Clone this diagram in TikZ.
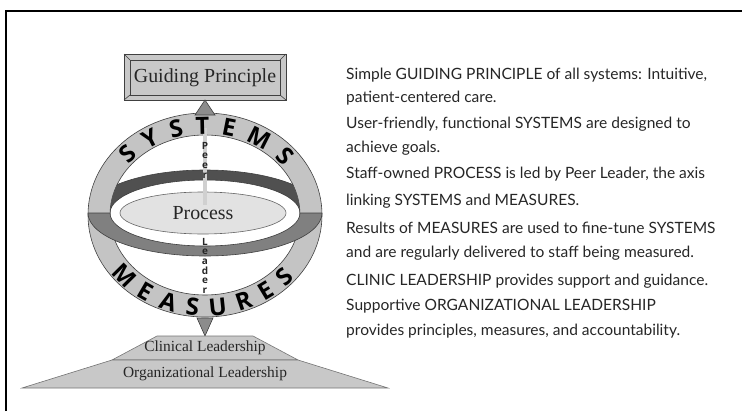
\documentclass[tikz,border=0pt]{standalone}
\usepackage{fontspec}
\setmainfont{Liberation Serif}
\newfontfamily\sidefont{Lato}
\newfontfamily\ringfont{Open Sans}
\usetikzlibrary{decorations.text,calc,shapes.geometric}
\definecolor{ringgray}{HTML}{C4C4C4}
\definecolor{boxgray}{HTML}{C8C8C8}
\definecolor{edgegray}{HTML}{404040}
\definecolor{backband}{HTML}{505050}
\definecolor{frontband}{HTML}{808080}
\definecolor{procgray}{HTML}{E2E2E2}
\definecolor{axisgray}{HTML}{D0D0D0}
\newcommand\ringtxt{\ringfont\bfseries\fontsize{24}{24}\selectfont}
\tikzset{
  sidetext/.style={anchor=base west, inner sep=0pt, font=\sidefont\fontsize{15.6}{18}\selectfont, text=black!85},
  serif/.style={inner sep=0pt, text=black!85},
  stack/.style={anchor=north, inner sep=0pt, align=center, font=\ringfont\bfseries\fontsize{10}{9.7}\selectfont, text=black!85},
  outline/.style={draw=edgegray, line width=0.6pt}
}
\begin{document}
\begin{tikzpicture}[x=1bp,y=1bp]
\useasboundingbox (0,0) rectangle (742,411);
% frame
\draw[line width=1.8bp, black] (6,0) -- (6,400) -- (742,400);
\coordinate (C) at (205,196);
\coordinate (E) at (205,198);
% vertical ring
\fill[ringgray, even odd rule] (C) ellipse[x radius=117bp, y radius=102bp] (C) ellipse[x radius=95bp, y radius=80bp];
\draw[outline] (C) ellipse[x radius=117bp, y radius=102bp];
\draw[outline] (C) ellipse[x radius=95bp, y radius=80bp];
% back band
\begin{scope}
  \clip (C) ellipse[x radius=95bp, y radius=80bp];
  \filldraw[fill=backband, draw=edgegray, line width=0.6pt] ($(E)+(117,0)$) arc[start angle=0, end angle=180, x radius=117bp, y radius=43bp] -- ($(E)+(-95,0)$) arc[start angle=180, end angle=0, x radius=95bp, y radius=33bp] -- cycle;
\end{scope}
% process
\node[ellipse, minimum width=166bp, minimum height=42bp, fill=procgray, draw=black!60, line width=0.6pt, inner sep=0pt] (proc) at (203,198) {};
\node[serif, font=\fontsize{20}{20}\selectfont] (proctext) at (203,198) {Process};
% axis
\coordinate (axtop) at (205,283);
\coordinate (axbot) at (205,206);
\draw[axisgray, line width=3.5bp] (axtop) -- (axbot);
% front band
\filldraw[fill=frontband, draw=edgegray, line width=0.6pt] ($(E)+(-117,0)$) arc[start angle=180, end angle=360, x radius=117bp, y radius=43bp] -- ($(E)+(95,0)$) arc[start angle=0, end angle=-180, x radius=95bp, y radius=33bp] -- cycle;
% ring texts
\path[decorate, decoration={text along path, text={|\ringtxt|SYSTEMS}, text align=fit to path}] ($(C)+(142:97bp and 81bp)$) arc[start angle=142, end angle=36, x radius=97bp, y radius=81bp];
\path[decorate, decoration={text along path, text={|\ringtxt|MEASURES}, text align=fit to path}] ($(C)+(215:115bp and 101bp)$) arc[start angle=215, end angle=321, x radius=115bp, y radius=101bp];
% Peer Leader
\node[stack] (peer) at (205,269) {P\\e\\e\\r};
\node[stack] (leader) at (205,173) {L\\e\\a\\d\\e\\r};
% guiding principle box
\filldraw[fill=boxgray, draw=edgegray, line width=0.6pt] (124,311) rectangle (286,357);
\draw[edgegray, line width=0.6pt] (124,311) -- (130,316) (286,311) -- (280,316) (124,357) -- (130,351) (286,357) -- (280,351);
\node[draw=edgegray, line width=0.6pt, fill=boxgray, minimum width=150bp, minimum height=35bp, inner sep=0pt] (gp) at (205,333.5) {};
\node[serif, font=\fontsize{20}{20}\selectfont] (gptext) at (205,333.5) {Guiding Principle};
% up triangle
\filldraw[fill=black!45, draw=edgegray, line width=0.6pt] (195,296) -- (205,311) -- (215,296) -- cycle;
% down triangle
\filldraw[fill=black!45, draw=edgegray, line width=0.6pt] (197,93) -- (213,93) -- (205,75) -- cycle;
% trapezoids
\filldraw[fill=boxgray, draw=black!55, line width=0.6pt] (157,75) -- (253,75) -- (298,51) -- (112,51) -- cycle;
\filldraw[fill=boxgray, draw=black!55, line width=0.6pt] (112,51) -- (298,51) -- (388,23) -- (22,23) -- cycle;
\node[serif, font=\fontsize{15.5}{15.5}\selectfont] (clin) at (205,63) {Clinical Leadership};
\node[serif, font=\fontsize{15.5}{15.5}\selectfont] (org) at (205,37) {Organizational Leadership};
% side text
\node[sidetext] (l1) at (346,332) {Simple GUIDING PRINCIPLE of all systems: Intuitive,};
\node[sidetext] (l2) at (346,308.5) {patient-centered care.};
\node[sidetext] (l3) at (346,282.5) {User-friendly, functional SYSTEMS are designed to};
\node[sidetext] (l4) at (346,259) {achieve goals.};
\node[sidetext] (l5) at (346,233) {Staff-owned PROCESS is led by Peer Leader, the axis};
\node[sidetext] (l6) at (346,206) {linking SYSTEMS and MEASURES.};
\node[sidetext] (l7) at (346,178) {Results of MEASURES are used to fine-tune SYSTEMS};
\node[sidetext] (l8) at (346,154) {and are regularly delivered to staff being measured.};
\node[sidetext] (l9) at (346,125.5) {CLINIC LEADERSHIP provides support and guidance.};
\node[sidetext] (l10) at (346,100.5) {Supportive ORGANIZATIONAL LEADERSHIP};
\node[sidetext] (l11) at (346,76) {provides principles, measures, and accountability.};
\end{tikzpicture}
\end{document}
